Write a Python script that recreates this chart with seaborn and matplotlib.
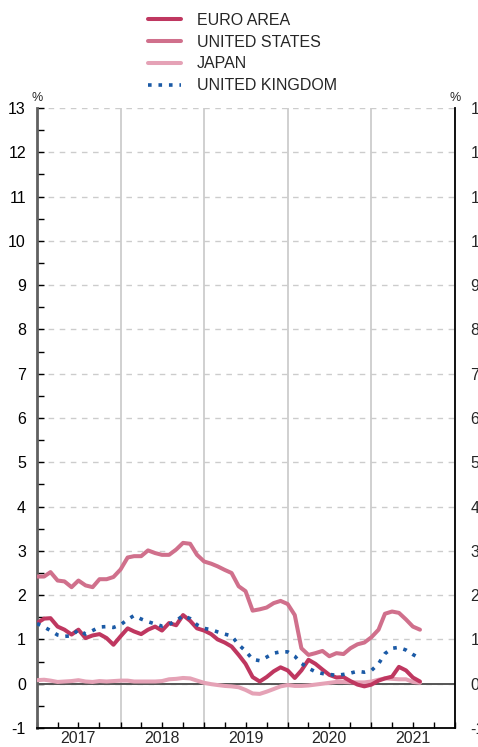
import numpy as np
import pandas as pd
import matplotlib
matplotlib.use("Agg")
import matplotlib.pyplot as plt
import matplotlib.dates as mdates
from matplotlib.ticker import MultipleLocator, NullFormatter
import seaborn as sns

# ---------------- data ----------------
start_month = "2017-01-01"
n_months = 56
series_names = ["EURO AREA", "UNITED STATES", "JAPAN", "UNITED KINGDOM"]

euro_area = [1.37, 1.47, 1.48, 1.29, 1.22, 1.11, 1.22, 1.03, 1.09, 1.12,
             1.03, 0.88, 1.07, 1.25, 1.18, 1.12, 1.22, 1.29, 1.20, 1.37,
             1.32, 1.55, 1.42, 1.25, 1.20, 1.12, 1.00, 0.93, 0.84, 0.65,
             0.45, 0.15, 0.05, 0.15, 0.28, 0.37, 0.30, 0.13, 0.30, 0.54,
             0.45, 0.32, 0.20, 0.14, 0.15, 0.06, -0.02, -0.06, -0.02, 0.07,
             0.12, 0.16, 0.38, 0.30, 0.14, 0.05]
united_states = [2.42, 2.42, 2.52, 2.33, 2.31, 2.18, 2.33, 2.22, 2.18, 2.36,
                 2.36, 2.41, 2.58, 2.85, 2.88, 2.88, 3.01, 2.95, 2.91, 2.91,
                 3.03, 3.18, 3.16, 2.91, 2.76, 2.71, 2.65, 2.57, 2.50, 2.20,
                 2.09, 1.65, 1.68, 1.72, 1.82, 1.87, 1.80, 1.55, 0.80, 0.65,
                 0.69, 0.74, 0.62, 0.69, 0.67, 0.80, 0.89, 0.93, 1.05, 1.22,
                 1.58, 1.63, 1.60, 1.45, 1.29, 1.22]
japan = [0.08, 0.09, 0.07, 0.04, 0.05, 0.06, 0.08, 0.05, 0.04, 0.06,
         0.05, 0.06, 0.07, 0.07, 0.05, 0.05, 0.05, 0.05, 0.06, 0.10,
         0.11, 0.13, 0.12, 0.07, 0.02, -0.01, -0.03, -0.05, -0.06, -0.08,
         -0.14, -0.22, -0.23, -0.18, -0.12, -0.06, -0.03, -0.05, -0.05, -0.04,
         -0.02, 0.00, 0.02, 0.04, 0.04, 0.03, 0.03, 0.03, 0.05, 0.09,
         0.12, 0.11, 0.10, 0.10, 0.04, 0.02]
united_kingdom = [1.36, 1.28, 1.20, 1.10, 1.07, 1.08, 1.22, 1.12, 1.20, 1.28,
                  1.29, 1.27, 1.33, 1.45, 1.54, 1.46, 1.40, 1.35, 1.30, 1.34,
                  1.42, 1.54, 1.47, 1.33, 1.25, 1.22, 1.17, 1.12, 1.08, 0.88,
                  0.74, 0.55, 0.52, 0.60, 0.69, 0.72, 0.72, 0.62, 0.46, 0.35,
                  0.27, 0.23, 0.21, 0.19, 0.21, 0.24, 0.28, 0.26, 0.30, 0.45,
                  0.68, 0.80, 0.82, 0.76, 0.66, 0.57]

year_labels = ["2017", "2018", "2019", "2020", "2021"]
y_min, y_max = -1, 13

# ---------------- styling ----------------
sns.set_style("white")
plt.rcParams["font.family"] = ["Liberation Sans", "DejaVu Sans"]
plt.rcParams["axes.unicode_minus"] = False

colors = {"EURO AREA": "#bf3760", "UNITED STATES": "#d0708c",
          "JAPAN": "#e5a2b6", "UNITED KINGDOM": "#1b5aa6"}
dashes = {"EURO AREA": "", "UNITED STATES": "", "JAPAN": "",
          "UNITED KINGDOM": (1, 1.9)}
zorders = {"EURO AREA": 5, "UNITED STATES": 4, "JAPAN": 3, "UNITED KINGDOM": 6}

dates = pd.date_range(start_month, periods=n_months, freq="MS")
values = {"EURO AREA": euro_area, "UNITED STATES": united_states,
          "JAPAN": japan, "UNITED KINGDOM": united_kingdom}
df = pd.concat([pd.DataFrame({"date": dates, "value": values[s], "series": s})
                for s in series_names], ignore_index=True)

fig = plt.figure(figsize=(4.78, 7.47), dpi=100)
ax = fig.add_axes([37 / 478, 1 - 728 / 747, (455 - 37) / 478, (728 - 108) / 747])

handles = []
for s in series_names:
    sub = df[df["series"] == s]
    sns.lineplot(data=sub, x="date", y="value", ax=ax, color=colors[s],
                 linewidth=2.9, legend=False, zorder=zorders[s])
    ln = ax.get_lines()[-1]
    if dashes[s]:
        ln.set_dashes(dashes[s])
        ln.set_linewidth(2.6)
    handles.append(ln)

ax.set_xlim(pd.Timestamp("2017-01-01"), pd.Timestamp("2022-01-01"))
ax.set_ylim(y_min, y_max)
ax.set_xlabel("")
ax.set_ylabel("")

# y axis (left labels)
ax.yaxis.set_major_locator(MultipleLocator(1))
ax.yaxis.set_minor_locator(MultipleLocator(0.5))
ax.tick_params(axis="y", which="both", direction="in", length=5, width=1,
               left=True, right=True, labelleft=True, labelright=False,
               labelsize=11.5, pad=8, colors="black")
ax.grid(axis="y", which="major", linestyle=(0, (4, 4)), color="#cccccc",
        linewidth=1.0)
ax.axhline(0, color="#555555", linewidth=1.4, zorder=2)

# x axis
ax.xaxis.set_major_locator(mdates.YearLocator())
ax.xaxis.set_minor_locator(mdates.MonthLocator(bymonth=[4, 7, 10]))
ax.xaxis.set_major_formatter(NullFormatter())
ax.tick_params(axis="x", which="both", direction="in", length=4, width=1,
               bottom=True, top=False, colors="black")
ax.grid(axis="x", which="major", linestyle="-", color="#c8c8c8", linewidth=1.2)
ax.set_axisbelow(True)

for lab in year_labels:
    mid = pd.Timestamp(f"{lab}-07-01")
    ax.text(mdates.date2num(mid), -18.3 / 620, lab,
            transform=ax.get_xaxis_transform(),
            ha="center", va="bottom", fontsize=11.5)

# right-hand labels (same scale)
ax2 = ax.twinx()
ax2.set_ylim(y_min, y_max)
ax2.yaxis.set_major_locator(MultipleLocator(1))
ax2.tick_params(axis="y", which="both", length=0, labelsize=11.5, pad=11,
                labelright=True, right=False)
for sp in ax2.spines.values():
    sp.set_visible(False)

# spines
ax.spines["top"].set_visible(False)
ax.spines["left"].set_color("#606060")
ax.spines["left"].set_linewidth(2.0)
ax.spines["right"].set_color("black")
ax.spines["right"].set_linewidth(1.3)
ax.spines["bottom"].set_color("black")
ax.spines["bottom"].set_linewidth(1.3)

ax.text(0, 1.006, "%", transform=ax.transAxes, ha="center", va="bottom",
        fontsize=9)
ax.text(1, 1.006, "%", transform=ax.transAxes, ha="center", va="bottom",
        fontsize=9)

fig.legend(handles, series_names, loc="upper left",
           bbox_to_anchor=(148 / 478, 1 - 13 / 747), frameon=False,
           fontsize=11.5, handlelength=2.06, handletextpad=1.0,
           labelspacing=0.42, borderpad=0, borderaxespad=0)

fig.savefig("out.png", dpi=100, facecolor="white")
